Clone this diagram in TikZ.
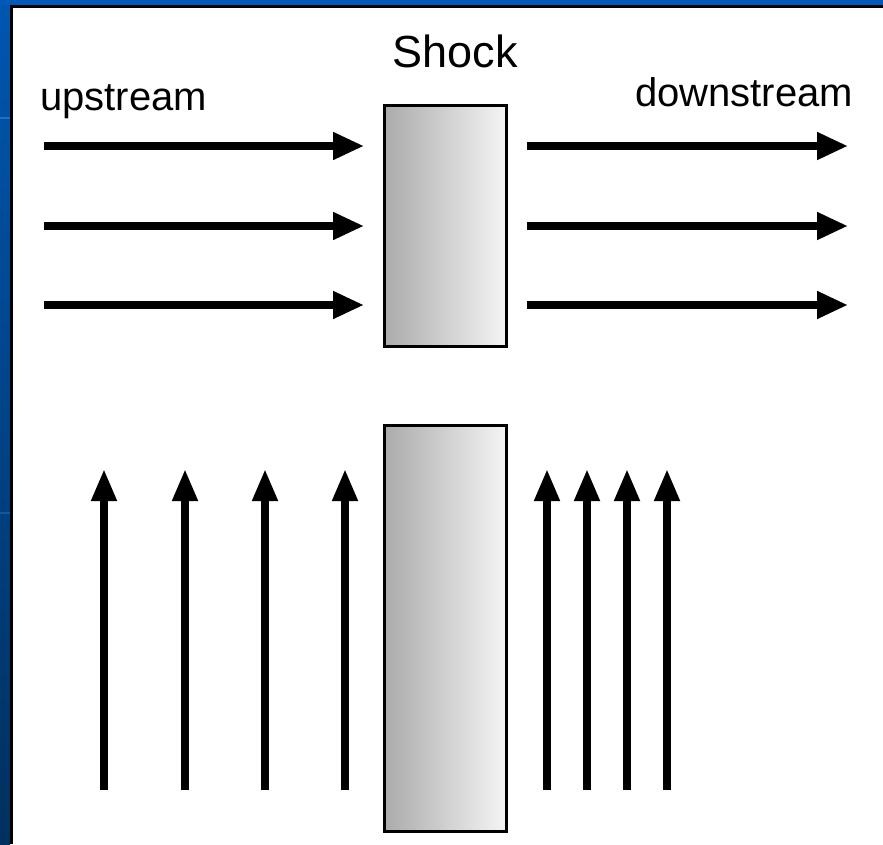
\documentclass[tikz,border=0pt]{standalone}
\usepackage{fontspec}
\setmainfont{Liberation Sans}
\usetikzlibrary{arrows.meta}
\definecolor{slidetop}{HTML}{0058B8}
\definecolor{slideupper}{HTML}{0056B0}
\definecolor{slidelower}{HTML}{00305E}
\definecolor{slidestripe}{HTML}{1A72D0}
\begin{document}
\begin{tikzpicture}[x=1pt,y=-1pt,
  flow/.style={line width=7.5pt, -{Triangle[length=31pt,width=26pt]}},
  shockbox/.style={draw=black, line width=3pt, left color=black!33, right color=black!4, inner sep=0pt},
  lbl/.style={inner sep=0pt, font=\fontsize{40pt}{44pt}\selectfont}]
\useasboundingbox (0,0) rectangle (883,844);
% slide background frame
\fill[white] (0,0) rectangle (883,844);
\shade[top color=slideupper, bottom color=slidelower] (0,0) rectangle (10,844);
\fill[slidetop] (0,0) rectangle (883,5);
\fill[slidestripe] (0,117) rectangle (10,119);
\fill[slidestripe!60!slidelower] (0,512) rectangle (10,514);
\fill[black] (10,5) rectangle (13,844);
\fill[black] (10,5) rectangle (883,8);
% labels
\node[lbl, anchor=base, font=\fontsize{45pt}{50pt}\selectfont] (shocklbl) at (455,67) {Shock};
\node[lbl, anchor=base west] (uplbl) at (40,110) {upstream};
\node[lbl, anchor=base west] (downlbl) at (635,106) {downstream};
% shock boxes
\node[shockbox, minimum width=122pt, minimum height=241.5pt] (shockA) at (445.5,225.75) {};
\node[shockbox, minimum width=122pt, minimum height=406pt] (shockB) at (445.5,628.5) {};
% horizontal flow
\foreach \n/\y in {1/146,2/226,3/305}{
  \coordinate (ua\n) at (44,\y);
  \coordinate (ub\n) at (364,\y);
  \coordinate (da\n) at (527,\y);
  \coordinate (db\n) at (848,\y);
  \draw[flow] (ua\n) -- (ub\n);
  \draw[flow] (da\n) -- (db\n);
}
% vertical field lines
\foreach \n/\x in {1/104,2/185,3/265,4/345,5/547,6/587,7/627,8/667}{
  \coordinate (va\n) at (\x,790);
  \coordinate (vb\n) at (\x,469);
  \draw[flow, -{Triangle[length=32pt,width=24pt]}] (va\n) -- (vb\n);
}
\end{tikzpicture}
\end{document}
